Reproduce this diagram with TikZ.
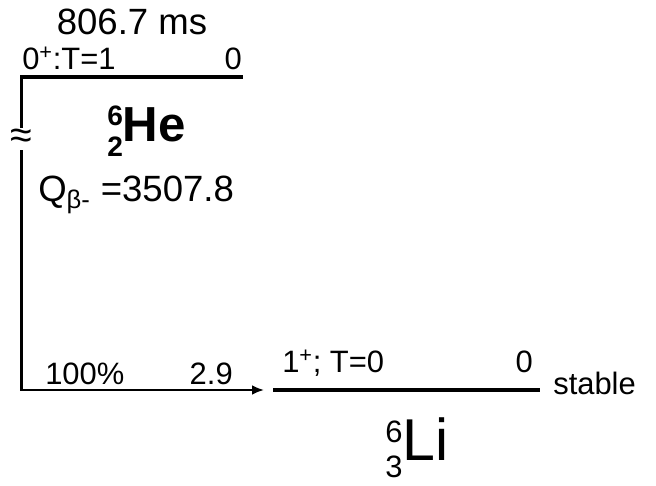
\documentclass[tikz,border=0pt]{standalone}
\usepackage{fontspec}
\setmainfont{Liberation Sans}
\usetikzlibrary{positioning, arrows.meta}

\newcommand{\nuc}[5]{{\fontsize{#1}{#2}\selectfont\begin{tabular}{@{}c@{}}#3\\#4\end{tabular}}#5}

\begin{document}
\begin{tikzpicture}[
  level/.style={line width=3pt},
  trans/.style={line width=2pt, -{Latex[length=0.3cm, width=0.25cm]}},
  lbl/.style={inner sep=0pt, font=\fontsize{22}{26}\selectfont},
  big/.style={inner sep=0pt, font=\fontsize{26}{30}\selectfont},
]
\useasboundingbox (0,0) rectangle (16.4,12.125);

% Levels
\coordinate (he-l) at (0.5,10.2);
\coordinate (he-r) at (6.075,10.2);
\coordinate (li-l) at (6.825,2.375);
\coordinate (li-r) at (13.5,2.375);
\draw[level] (he-l) -- (he-r);
\draw[level] (li-l) -- (li-r);

% Decay branch
\coordinate (he-top) at (0.54,10.2);
\coordinate (he-b) at (0.54,2.375);
\coordinate (li-in) at (6.6,2.375);
\draw[trans] (he-top) -- (he-b) -- (li-in);
\node[fill=white, inner sep=1pt, font=\fontsize{28}{30}\selectfont] (brk) at (0.54,8.65) {≈};

% Parent 6He
\node[big, anchor=base] (hl) at (3.3,11.25) {806.7 ms};
\node[lbl, anchor=base west] (jp-he) at (0.55,10.375) {0\textsuperscript{+}:T=1};
\node[lbl, anchor=base east] (e-he) at (6.05,10.375) {0};
\node[inner sep=0pt, anchor=base west, font=\bfseries] (he) at (2.675,8.575)
  {\nuc{20}{22}{6}{2}{\fontsize{35}{40}\selectfont He}};
\node[big, anchor=base west] (q) at (0.95,7.075) {Q\textsubscript{β-} =3507.8};

% Branch labels
\node[lbl, anchor=base west] (br) at (1.125,2.5) {100\%};
\node[lbl, anchor=base east] (lft) at (5.825,2.5) {2.9};

% Daughter 6Li
\node[lbl, anchor=base west] (jp-li) at (7.05,2.8) {1\textsuperscript{+}; T=0};
\node[lbl, anchor=base east] (e-li) at (13.325,2.8) {0};
\node[inner sep=0pt, anchor=base west, font=\fontsize{22}{26}\selectfont] (st) at (13.825,2.25) {stable};
\node[inner sep=0pt, anchor=base west] (li) at (9.625,0.625)
  {\nuc{22}{25}{6}{3}{\fontsize{42}{48}\selectfont Li}};
\end{tikzpicture}
\end{document}
